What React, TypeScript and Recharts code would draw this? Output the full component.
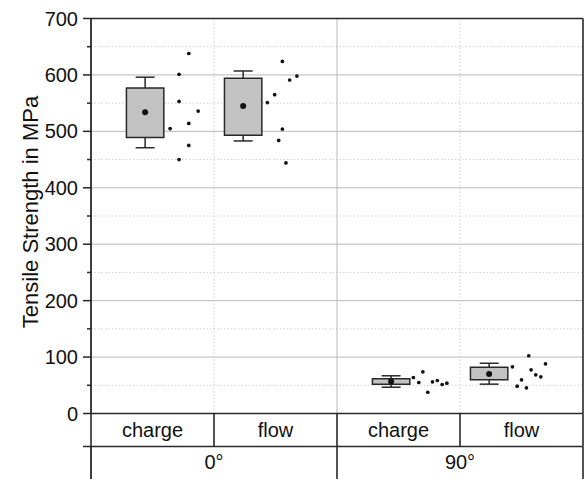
import React from 'react';
import {
  ComposedChart,
  XAxis,
  YAxis,
  Scatter,
  ReferenceLine,
  ReferenceArea,
} from 'recharts';

// ---- data ----
const GROUPS = ['0°', '90°'];
const CATEGORIES = ['charge', 'flow'];
const Y_LABEL = 'Tensile Strength in MPa';

// box statistics, one entry per series: 0° charge, 0° flow, 90° charge, 90° flow
const WHISKER_LOW = [471, 483, 46.6, 52];
const BOX_LOW = [489, 493, 52, 59.7];
const BOX_HIGH = [577, 594, 61.5, 82];
const WHISKER_HIGH = [596, 607, 66.8, 89];
const MEANS = [534, 545, 56.7, 70];

// individual specimens
const CHARGE_0 = [638, 601, 553, 536, 514, 505, 475, 450];
const FLOW_0 = [624, 598, 591, 565, 551, 504, 484, 444];
const CHARGE_90 = [63.8, 73.9, 54.9, 37.7, 56.2, 58.5, 51.4, 53.7];
const FLOW_90 = [82.8, 102.3, 77.4, 68.6, 65, 88.1, 59.7, 48.4, 45.5];
const SAMPLES = [CHARGE_0, FLOW_0, CHARGE_90, FLOW_90];

const Y_TICKS = [0, 50, 100, 150, 200, 250, 300, 350, 400, 450, 500, 550, 600, 650, 700];
const Y_MAJOR = [100, 200, 300, 400, 500, 600];
const Y_MINOR = [50, 150, 250, 350, 450, 550, 650];

// ---- layout (x in category-cell units, one cell per series) ----
const CELL_TICKS = [0, 0.5, 1, 1.5, 2, 2.5, 3, 3.5, 4];
const GROUP_TICKS = [0, 1, 2, 3, 4];
const BOX_SHIFT = [0.44, 0.237];
const BOX_HALF = 0.152;
const CAP_HALF = 0.077;
const JITTER = [
  [0.355, 0.276, 0.276, 0.431, 0.355, 0.203, 0.355, 0.276],
  [0.319, 0.437, 0.378, 0.256, 0.197, 0.319, 0.289, 0.348],
  [0.181, 0.258, 0.225, 0.298, 0.336, 0.376, 0.415, 0.453],
  [0.189, 0.322, 0.341, 0.379, 0.42, 0.458, 0.263, 0.228, 0.303],
];

const DARK = '#282828';
const GRID = '#b8b8b8';
const GRID_MINOR = '#cfcfcf';
const BOX_FILL = '#c2c2c2';
const FONT = '"Liberation Sans", Arial, Helvetica, sans-serif';
const CAT_ROW = 33;
const GROUP_ROW = 32.5;

const boxCenter = (i: number) => i + BOX_SHIFT[i % 2];

const points = SAMPLES.flatMap((vals, i) =>
  vals.map((v, j) => ({ x: boxCenter(i) + JITTER[i][j], y: v }))
);
const meanPoints = MEANS.map((m, i) => ({ x: boxCenter(i), y: m }));

const YTick = (props: any) => {
  const { x, y, payload } = props;
  const v = payload.value;
  const major = v % 100 === 0;
  return (
    <g>
      <line x1={x - (major ? 8 : 4)} y1={y} x2={x} y2={y} stroke={DARK} strokeWidth={1.5} />
      {major && (
        <text x={x - 13} y={y} textAnchor="end" dominantBaseline="central" fontSize={20} fill="#111" fontFamily={FONT}>
          {v}
        </text>
      )}
    </g>
  );
};

const CatTick = (props: any) => {
  const { x, y, payload } = props;
  const v = payload.value;
  if (Number.isInteger(v)) {
    return <line x1={x} y1={y} x2={x} y2={y + CAT_ROW} stroke={DARK} strokeWidth={1.6} />;
  }
  return (
    <text x={x} y={y + CAT_ROW / 2} textAnchor="middle" dominantBaseline="central" fontSize={20} fill="#111" fontFamily={FONT}>
      {CATEGORIES[Math.floor(v) % 2]}
    </text>
  );
};

const GroupTick = (props: any) => {
  const { x, y, payload } = props;
  const v = payload.value;
  if (v % 2 === 0) {
    return (
      <g>
        {v === 0 && <line x1={x - 8} y1={y} x2={x} y2={y} stroke={DARK} strokeWidth={1.5} />}
        <line x1={x} y1={y} x2={x} y2={y + GROUP_ROW} stroke={DARK} strokeWidth={v === 0 ? 1.8 : 1.6} />
      </g>
    );
  }
  return (
    <text x={x} y={y + GROUP_ROW / 2 - 1} textAnchor="middle" dominantBaseline="central" fontSize={20} fill="#111" fontFamily={FONT}>
      {GROUPS[(v - 1) / 2]}
    </text>
  );
};

const renderTitle = (props: any) => {
  const vb = props.viewBox;
  const cx = vb.x + 30;
  const cy = vb.y + vb.height / 2 - 4;
  return (
    <text
      x={cx}
      y={cy}
      transform={`rotate(-90, ${cx}, ${cy})`}
      textAnchor="middle"
      dominantBaseline="central"
      fontSize={22}
      fill="#111"
      fontFamily={FONT}
    >
      {Y_LABEL}
    </text>
  );
};

const Dot = (props: any) => <circle cx={props.cx} cy={props.cy} r={1.85} fill="#111" />;
const MeanDot = (props: any) => <circle cx={props.cx} cy={props.cy} r={3} fill="#111" />;

export default function App() {
  return (
    <div style={{ position: 'absolute', left: 0, top: 0, background: '#fff' }}>
      <ComposedChart
        width={584}
        height={479}
        margin={{ top: 18.5, right: 1, bottom: 0, left: 0 }}
        style={{ fontFamily: FONT }}
      >
        <XAxis
          xAxisId="cat"
          dataKey="x"
          type="number"
          domain={[0, 4]}
          ticks={CELL_TICKS}
          interval={0}
          height={CAT_ROW}
          tickSize={0}
          tickMargin={0}
          tickLine={false}
          tick={CatTick}
          axisLine={{ stroke: DARK, strokeWidth: 1.6 }}
          allowDataOverflow
        />
        <XAxis
          xAxisId="grp"
          dataKey="x"
          type="number"
          domain={[0, 4]}
          ticks={GROUP_TICKS}
          interval={0}
          height={GROUP_ROW}
          tickSize={0}
          tickMargin={0}
          tickLine={false}
          tick={GroupTick}
          axisLine={{ stroke: DARK, strokeWidth: 1.6 }}
          allowDataOverflow
        />
        <YAxis
          type="number"
          domain={[0, 700]}
          ticks={Y_TICKS}
          interval={0}
          width={91}
          tickSize={0}
          tickMargin={0}
          tickLine={false}
          tick={YTick}
          axisLine={{ stroke: DARK, strokeWidth: 1.8 }}
          label={renderTitle}
          allowDataOverflow
        />

        {/* grid */}
        {Y_MINOR.map((v) => (
          <ReferenceLine key={'mn' + v} xAxisId="cat" y={v} stroke={GRID_MINOR} strokeDasharray="1.5 2" strokeWidth={1} zIndex={-100} />
        ))}
        {Y_MAJOR.map((v) => (
          <ReferenceLine key={'mj' + v} xAxisId="cat" y={v} stroke={GRID} strokeWidth={1} zIndex={-100} />
        ))}
        <ReferenceLine xAxisId="cat" x={1} stroke={GRID_MINOR} strokeDasharray="1.5 2" zIndex={-100} />
        <ReferenceLine xAxisId="cat" x={3} stroke={GRID_MINOR} strokeDasharray="1.5 2" zIndex={-100} />
        <ReferenceLine xAxisId="cat" x={2} stroke={GRID} zIndex={-100} />

        {/* frame */}
        <ReferenceLine xAxisId="cat" y={700} stroke={DARK} strokeWidth={1.6} />
        <ReferenceLine xAxisId="cat" x={4} stroke={DARK} strokeWidth={1.6} />

        {/* boxes with whiskers */}
        {MEANS.map((_, i) => {
          const c = boxCenter(i);
          return (
            <React.Fragment key={'box' + i}>
              <ReferenceLine
                xAxisId="cat"
                segment={[{ x: c, y: WHISKER_LOW[i] }, { x: c, y: BOX_LOW[i] }]}
                stroke={DARK}
                strokeWidth={1.5}
              />
              <ReferenceLine
                xAxisId="cat"
                segment={[{ x: c, y: BOX_HIGH[i] }, { x: c, y: WHISKER_HIGH[i] }]}
                stroke={DARK}
                strokeWidth={1.5}
              />
              <ReferenceLine
                xAxisId="cat"
                segment={[{ x: c - CAP_HALF, y: WHISKER_LOW[i] }, { x: c + CAP_HALF, y: WHISKER_LOW[i] }]}
                stroke={DARK}
                strokeWidth={1.5}
              />
              <ReferenceLine
                xAxisId="cat"
                segment={[{ x: c - CAP_HALF, y: WHISKER_HIGH[i] }, { x: c + CAP_HALF, y: WHISKER_HIGH[i] }]}
                stroke={DARK}
                strokeWidth={1.5}
              />
              <ReferenceArea
                xAxisId="cat"
                x1={c - BOX_HALF}
                x2={c + BOX_HALF}
                y1={BOX_LOW[i]}
                y2={BOX_HIGH[i]}
                fill={BOX_FILL}
                fillOpacity={1}
                stroke={DARK}
                strokeWidth={1.5}
              />
            </React.Fragment>
          );
        })}

        <Scatter xAxisId="grp" data={meanPoints} dataKey="y" shape={MeanDot} isAnimationActive={false} />
        <Scatter xAxisId="cat" data={points} dataKey="y" shape={Dot} isAnimationActive={false} />
      </ComposedChart>
    </div>
  );
}
